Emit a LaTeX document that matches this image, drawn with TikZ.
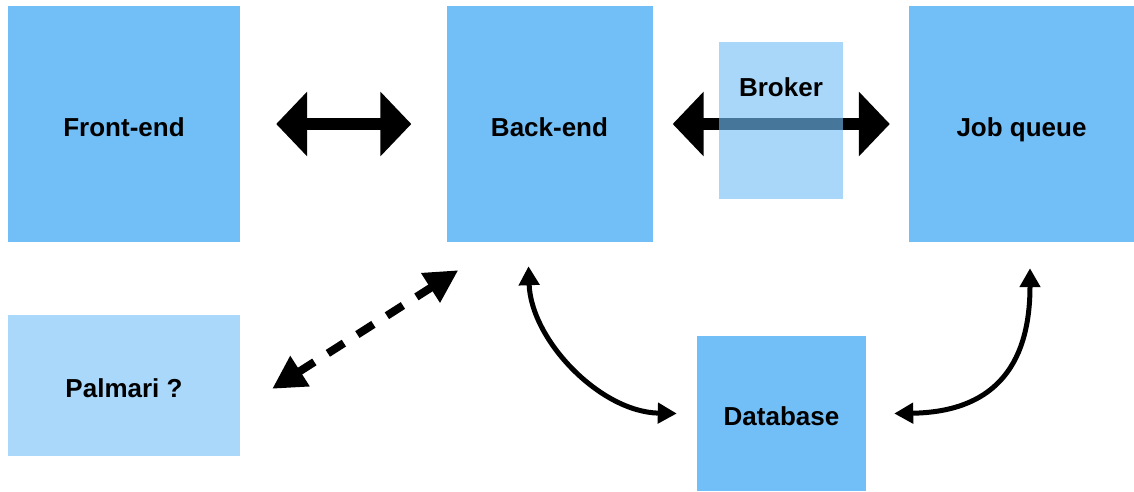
\documentclass[tikz,border=0pt]{standalone}
\usepackage{fontspec}
\setmainfont{Liberation Sans}
\usetikzlibrary{arrows.meta,calc}
\definecolor{boxblue}{RGB}{114,191,247}
\definecolor{lightblue}{RGB}{169,216,250}
\tikzset{
  lbl/.style={font=\bfseries\fontsize{26}{30}\selectfont, text=black, text height=26pt, text depth=2pt, inner sep=0pt},
  box/.style={lbl, fill=boxblue, draw=none},
  lightbox/.style={box, fill=lightblue},
  brokerbox/.style={box, fill=boxblue, fill opacity=0.62, text opacity=1},
  bigarrow/.style={line width=12pt, {Triangle[length=31pt,width=63pt]}-{Triangle[length=31pt,width=63pt]}},
  dasharrow/.style={line width=8pt, dash pattern=on 19pt off 16pt, {Triangle[length=33pt,width=34pt]}-{Triangle[length=33pt,width=33pt]}},
  curvearrow/.style={line width=5pt, {Triangle[length=19pt,width=20pt]}-{Triangle[length=19pt,width=20pt]}}
}
\begin{document}
\begin{tikzpicture}[x=1pt,y=-1pt]
\useasboundingbox (0,0) rectangle (1134,491);
\node[box, minimum width=232pt, minimum height=236pt] (fe) at (124,124) {Front-end};
\node[box, minimum width=206pt, minimum height=236pt] (be) at (549.5,124) {Back-end};
\node[box, minimum width=225pt, minimum height=236pt] (jq) at (1021.5,124) {Job queue};
\node[lightbox, minimum width=232pt, minimum height=141pt] (pal) at (124,385.5) {Palmari ?};
\node[box, minimum width=169pt, minimum height=155pt] (db) at (781.5,413.5) {Database};

\draw[bigarrow, shorten <=36pt, shorten >=35pt] (fe.east) -- (be.west);
\draw[bigarrow, shorten <=20pt, shorten >=19pt] (be.east |- 0,124) -- (jq.west |- 0,124);

\node[brokerbox, minimum width=124pt, minimum height=157pt] (br) at (781,120) {};
\node[lbl] (brl) at (781,84) {Broker};

\draw[dasharrow] ($(pal.north east)+(32,74)$) -- ($(be.south west)+(12,28)$);

\draw[curvearrow] ($(be.south)+(-21,24)$) .. controls (531,340) and (600,412) .. ($(db.west)+(-20,0)$);
\draw[curvearrow] ($(jq.south)+(8.5,26)$) .. controls (1030,370) and (990,412) .. ($(db.east)+(28,0)$);
\end{tikzpicture}
\end{document}
